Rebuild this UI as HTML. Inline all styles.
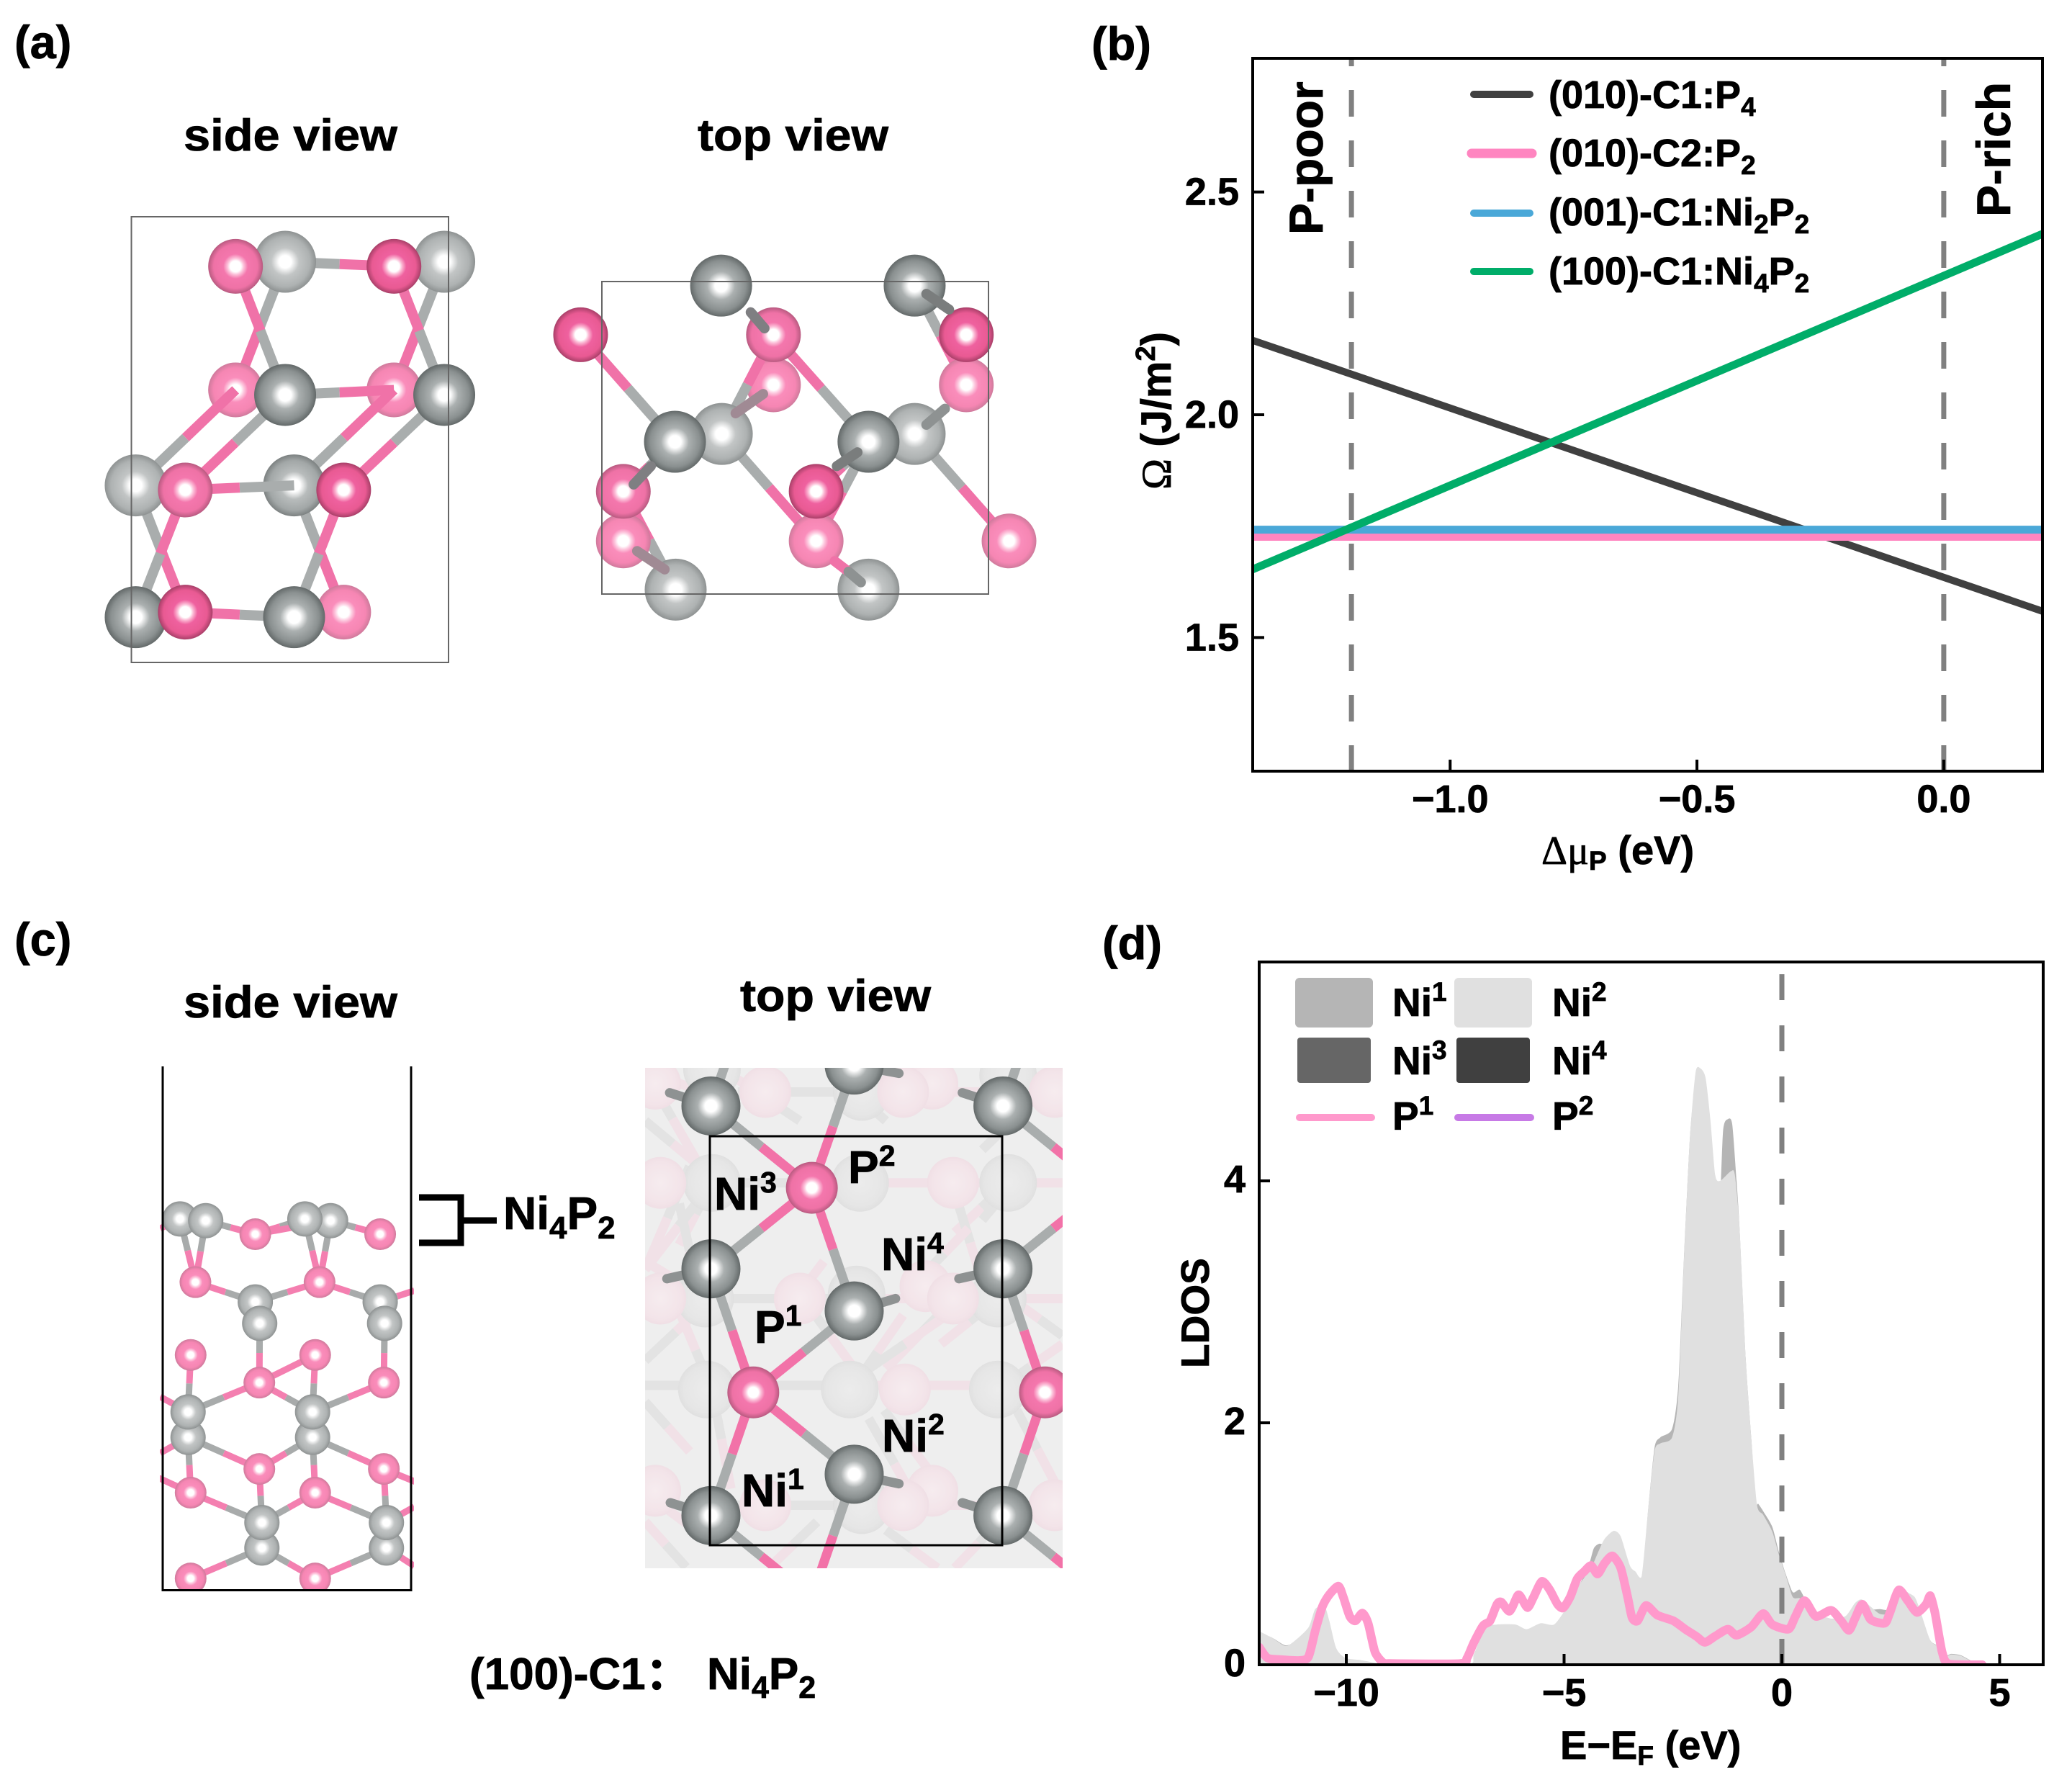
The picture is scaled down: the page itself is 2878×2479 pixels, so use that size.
<!DOCTYPE html>
<html lang="en">
<head>
<meta charset="utf-8">
<title>Ni2P surface structures, stability and LDOS</title>
<style>
html,body{margin:0;padding:0;background:#fff;}
svg{display:block;}
text{font-family:"Liberation Sans","Noto Sans CJK SC",sans-serif;font-weight:bold;fill:#000;white-space:pre;stroke:#000;stroke-width:.8px;}
.serif{font-family:"Liberation Serif",serif;font-weight:normal;}
</style>
</head>
<body>
<svg id="fig" xmlns="http://www.w3.org/2000/svg" width="2878" height="2479" viewBox="0 0 2878 2479">
<defs>
<radialGradient id="niDark"><stop offset="0" stop-color="#fff"/><stop offset=".2" stop-color="#fff"/><stop offset=".45" stop-color="#abb0b0"/><stop offset=".8" stop-color="#8a9090"/><stop offset="1" stop-color="#636969"/></radialGradient>
<radialGradient id="niMid"><stop offset="0" stop-color="#fff"/><stop offset=".2" stop-color="#fff"/><stop offset=".45" stop-color="#b8bcbc"/><stop offset=".8" stop-color="#a2a7a7"/><stop offset="1" stop-color="#7c8181"/></radialGradient>
<radialGradient id="niLight"><stop offset="0" stop-color="#fff"/><stop offset=".2" stop-color="#fff"/><stop offset=".45" stop-color="#c2c5c5"/><stop offset=".8" stop-color="#aeb2b2"/><stop offset="1" stop-color="#8e9292"/></radialGradient>
<radialGradient id="pStrong"><stop offset="0" stop-color="#fff"/><stop offset=".2" stop-color="#fff"/><stop offset=".3" stop-color="#fbb6d2"/><stop offset=".45" stop-color="#ef619f"/><stop offset=".8" stop-color="#e95a93"/><stop offset="1" stop-color="#a83f68"/></radialGradient>
<radialGradient id="pMid"><stop offset="0" stop-color="#fff"/><stop offset=".2" stop-color="#fff"/><stop offset=".3" stop-color="#fcc0d9"/><stop offset=".45" stop-color="#f477ad"/><stop offset=".8" stop-color="#ef72a6"/><stop offset="1" stop-color="#b85a80"/></radialGradient>
<radialGradient id="pLight"><stop offset="0" stop-color="#fff"/><stop offset=".2" stop-color="#fff"/><stop offset=".3" stop-color="#fdcde1"/><stop offset=".45" stop-color="#fa8dbb"/><stop offset=".8" stop-color="#f686b3"/><stop offset="1" stop-color="#cf7a9c"/></radialGradient>
<radialGradient id="niFade"><stop offset="0" stop-color="#ececec"/><stop offset=".8" stop-color="#e6e6e6"/><stop offset="1" stop-color="#e0e0e0"/></radialGradient>
<radialGradient id="pFade"><stop offset="0" stop-color="#f6ecef"/><stop offset=".8" stop-color="#f3e4e9"/><stop offset="1" stop-color="#f0dfe5"/></radialGradient>
<clipPath id="clipSide"><rect x="222" y="1481" width="353" height="728"/></clipPath>
<clipPath id="clipTop"><rect x="896" y="1483" width="580" height="695"/></clipPath>
<clipPath id="clipB"><rect x="1740" y="81" width="1097" height="990"/></clipPath>
<clipPath id="clipD"><rect x="1749" y="1336" width="1089" height="976"/></clipPath>
</defs>

<!-- Panel labels -->
<text x="20" y="81" font-size="65">(a)</text>
<text x="1516" y="83" font-size="65">(b)</text>
<text x="20" y="1327" font-size="65">(c)</text>
<text x="1531" y="1332" font-size="65">(d)</text>

<!-- Panel a -->
<g>
<text x="255" y="209" font-size="62" textLength="297" lengthAdjust="spacingAndGlyphs">side view</text>
<text x="969" y="209" font-size="62" textLength="265" lengthAdjust="spacingAndGlyphs">top view</text>
<g id="aSide"></g>
<rect x="182.5" y="301" width="440.5" height="619" fill="none" stroke="#666" stroke-width="2"/>
<g id="aTop"></g>
<rect x="836" y="391" width="537" height="434" fill="none" stroke="#666" stroke-width="2"/>
</g>

<!-- Panel b -->
<g>
<g id="bPlot" clip-path="url(#clipB)"></g>
<g id="bTicks"></g>
<rect x="1740" y="81" width="1097" height="990" fill="none" stroke="#000" stroke-width="4"/>
<text transform="translate(1626,680) rotate(-90)" font-size="58"><tspan class="serif">Ω</tspan> (J/m<tspan font-size="38" dy="-22">2</tspan><tspan dy="22">)</tspan></text>
<text x="2141" y="1200" font-size="56"><tspan class="serif">Δμ</tspan><tspan font-size="37" dy="8">P</tspan><tspan dy="-8"> (eV)</tspan></text>
<text transform="translate(1837,326) rotate(-90)" font-size="66">P-poor</text>
<text transform="translate(2792,301) rotate(-90)" font-size="66">P-rich</text>
<g>
<line x1="2047" y1="131" x2="2125" y2="131" stroke="#404040" stroke-width="10" stroke-linecap="round"/>
<line x1="2044" y1="213" x2="2128" y2="213" stroke="#ff85c0" stroke-width="13" stroke-linecap="round"/>
<line x1="2047" y1="296" x2="2125" y2="296" stroke="#4aa8d8" stroke-width="10" stroke-linecap="round"/>
<line x1="2047" y1="377" x2="2125" y2="377" stroke="#00ad69" stroke-width="10" stroke-linecap="round"/>
<text x="2151" y="150" font-size="54">(010)-C1:P<tspan font-size="37" dy="11">4</tspan></text>
<text x="2151" y="231" font-size="54">(010)-C2:P<tspan font-size="37" dy="11">2</tspan></text>
<text x="2151" y="313" font-size="54">(001)-C1:Ni<tspan font-size="37" dy="11">2</tspan><tspan dy="-11">P</tspan><tspan font-size="37" dy="11">2</tspan></text>
<text x="2151" y="395" font-size="54">(100)-C1:Ni<tspan font-size="37" dy="11">4</tspan><tspan dy="-11">P</tspan><tspan font-size="37" dy="11">2</tspan></text>
</g>
</g>

<!-- Panel c -->
<g>
<text x="255" y="1413" font-size="62" textLength="297" lengthAdjust="spacingAndGlyphs">side view</text>
<text x="1028" y="1404" font-size="62" textLength="265" lengthAdjust="spacingAndGlyphs">top view</text>
<g id="cSide" clip-path="url(#clipSide)"></g>
<path d="M226 1481V2208.5H571V1481" fill="none" stroke="#000" stroke-width="3"/>
<path d="M582 1663H640V1726H582M640 1695H690" fill="none" stroke="#000" stroke-width="9"/>
<text x="699" y="1707" font-size="64">Ni<tspan font-size="44" dy="13">4</tspan><tspan dy="-13">P</tspan><tspan font-size="44" dy="13">2</tspan></text>
<rect x="896" y="1483" width="580" height="695" fill="#eeeeee"/>
<g id="cTop" clip-path="url(#clipTop)"></g>
<rect x="986" y="1578" width="406" height="568" fill="none" stroke="#000" stroke-width="3"/>
<text x="992" y="1680" font-size="64">Ni<tspan font-size="41" dy="-24">3</tspan></text>
<text x="1178" y="1643" font-size="64">P<tspan font-size="41" dy="-24">2</tspan></text>
<text x="1224" y="1764" font-size="64">Ni<tspan font-size="41" dy="-24">4</tspan></text>
<text x="1048" y="1865" font-size="64">P<tspan font-size="41" dy="-24">1</tspan></text>
<text x="1225" y="2016" font-size="64">Ni<tspan font-size="41" dy="-24">2</tspan></text>
<text x="1030" y="2092" font-size="64">Ni<tspan font-size="41" dy="-24">1</tspan></text>
<text x="652" y="2346" font-size="62">(100)-C1：<tspan x="982">Ni</tspan><tspan font-size="43" dy="12">4</tspan><tspan dy="-12">P</tspan><tspan font-size="43" dy="12">2</tspan></text>
</g>

<!-- Panel d -->
<g>
<g id="dPlot" clip-path="url(#clipD)"></g>
<g id="dTicks"></g>
<rect x="1749" y="1336" width="1089" height="976" fill="none" stroke="#000" stroke-width="4"/>
<text transform="translate(1679,1900) rotate(-90)" font-size="55">LDOS</text>
<text x="2167" y="2443" font-size="56">E−E<tspan font-size="37" dy="8">F</tspan><tspan dy="-8"> (eV)</tspan></text>
<g>
<rect x="1799" y="1358" width="108" height="69" rx="6" fill="#b5b5b5"/>
<rect x="2020" y="1358" width="108" height="69" rx="6" fill="#e0e0e0"/>
<rect x="1802" y="1441" width="102" height="63" rx="4" fill="#666666"/>
<rect x="2023" y="1441" width="102" height="63" rx="4" fill="#404040"/>
<line x1="1805" y1="1552" x2="1905" y2="1552" stroke="#ff99cc" stroke-width="10" stroke-linecap="round"/>
<line x1="2025" y1="1552" x2="2126" y2="1552" stroke="#c77ae6" stroke-width="10" stroke-linecap="round"/>
<text x="1934" y="1411" font-size="55">Ni<tspan font-size="37" dy="-21">1</tspan></text>
<text x="2156" y="1411" font-size="55">Ni<tspan font-size="37" dy="-21">2</tspan></text>
<text x="1934" y="1492" font-size="55">Ni<tspan font-size="37" dy="-21">3</tspan></text>
<text x="2156" y="1492" font-size="55">Ni<tspan font-size="37" dy="-21">4</tspan></text>
<text x="1934" y="1569" font-size="55">P<tspan font-size="37" dy="-21">1</tspan></text>
<text x="2156" y="1569" font-size="55">P<tspan font-size="37" dy="-21">2</tspan></text>
</g>
</g>
</svg>

<script>
// ---------- Panel b data ----------
const muEnds = [-1.4, 0.2];
const omegaP4 = [2.167, 1.559];
const omegaC2P2 = [1.726, 1.726];
const omegaNi2P2 = [1.742, 1.742];
const omegaNi4P2 = [1.653, 2.406];
const boundaryMu = [-1.2, 0];
const bXTicks = [-1.0, -0.5, 0.0];
const bXTickLabels = ["−1.0", "−0.5", "0.0"];
const bYTicks = [1.5, 2.0, 2.5];
const bYTickLabels = ["1.5", "2.0", "2.5"];

// ---------- Panel d data ----------
const ni1Energy = [-11.98,-11.71,-11.39,-11.13,-10.86,-10.71,-10.5,-10.39,-10.23,-10.02,-9.7,-9.34,-9.1,-7.23,-7.07,-6.81,-6.54,-6.12,-5.86,-5.54,-5.23,-4.96,-4.65,-4.45,-4.32,-4.2,-4.07,-3.86,-3.7,-3.49,-3.22,-3.06,-2.92,-2.79,-2.52,-2.38,-2.25,-2.11,-1.98,-1.87,-1.75,-1.64,-1.53,-1.44,-1.35,-1.24,-1.14,-1.04,-0.97,-0.83,-0.7,-0.6,-0.54,-0.43,-0.22,-0.06,0.09,0.25,0.41,0.57,0.83,1.15,1.46,1.68,1.83,2.04,2.25,2.47,2.62,2.83,3.05,3.2,3.41,3.62,3.78,3.89,4.1,4.31,4.5];
const ni1Dos = [0.26,0.225,0.16,0.2,0.3,0.44,0.47,0.35,0.12,0.05,0.03,0.01,0,0,0.085,0.3,0.33,0.33,0.28,0.34,0.33,0.46,0.66,0.8,0.96,1.0,1.0,1.08,1.04,0.8,0.72,1.32,1.8,1.88,1.95,2.3,3.35,4.36,4.85,4.9,4.8,4.45,4.0,3.67,4.41,4.51,4.47,4.0,3.6,2.53,1.86,1.35,1.33,1.27,1.14,0.92,0.75,0.6,0.62,0.52,0.42,0.38,0.40,0.5,0.52,0.46,0.46,0.46,0.6,0.61,0.54,0.4,0.2,0.15,0.08,0.09,0.08,0.04,0];
const ni2Energy = [-11.98,-11.71,-11.39,-11.13,-10.86,-10.71,-10.5,-10.39,-10.23,-10.02,-9.7,-9.34,-9.1,-7.23,-7.07,-6.81,-6.54,-6.12,-5.86,-5.54,-5.23,-4.96,-4.65,-4.38,-4.23,-4.07,-3.86,-3.7,-3.49,-3.36,-3.22,-3.06,-2.92,-2.79,-2.52,-2.38,-2.25,-2.11,-1.98,-1.87,-1.75,-1.64,-1.53,-1.42,-1.17,-1.08,-0.97,-0.83,-0.7,-0.57,-0.43,-0.22,-0.06,0.09,0.25,0.41,0.57,0.83,1.15,1.46,1.68,1.83,2.04,2.25,2.47,2.62,2.83,3.05,3.2,3.41,3.62,3.78,3.89,4.1,4.31,4.5];
const ni2Dos = [0.274,0.224,0.155,0.214,0.313,0.462,0.482,0.363,0.135,0.056,0.04,0.016,0,0,0.085,0.304,0.333,0.333,0.294,0.343,0.333,0.462,0.66,0.8,0.92,1.04,1.107,1.06,0.82,0.77,0.73,1.32,1.77,1.83,1.88,2.21,3.33,4.36,4.9,4.93,4.85,4.5,4.05,4.0,4.08,4.05,3.6,2.53,1.86,1.32,1.24,1.1,0.9,0.74,0.56,0.55,0.5,0.42,0.38,0.40,0.51,0.54,0.48,0.42,0.43,0.58,0.60,0.56,0.42,0.2,0.145,0.075,0.085,0.075,0.036,0];
const p1Energy = [-12,-11.81,-11.5,-11.08,-10.87,-10.71,-10.55,-10.39,-10.18,-10.07,-9.92,-9.79,-9.63,-9.5,-9.34,-9.15,-9.0,-7.39,-7.23,-7.07,-6.86,-6.7,-6.54,-6.44,-6.25,-6.07,-6.0,-5.84,-5.7,-5.51,-5.33,-5.15,-5.02,-4.86,-4.7,-4.54,-4.38,-4.23,-4.07,-3.89,-3.7,-3.54,-3.44,-3.31,-3.12,-2.86,-2.49,-2.22,-1.96,-1.77,-1.54,-1.24,-1.04,-0.7,-0.43,-0.22,0.15,0.31,0.52,0.78,1.13,1.36,1.54,1.68,1.85,2.04,2.36,2.47,2.68,2.89,3.1,3.31,3.41,3.52,3.68,3.84,4.6];
const p1Dos = [0.145,0.056,0.042,0.036,0.065,0.284,0.48,0.58,0.65,0.56,0.40,0.363,0.427,0.343,0.105,0.016,0.01,0.01,0.055,0.185,0.323,0.363,0.50,0.518,0.442,0.571,0.565,0.472,0.56,0.69,0.62,0.50,0.47,0.56,0.71,0.77,0.82,0.75,0.84,0.90,0.80,0.56,0.39,0.363,0.49,0.41,0.363,0.294,0.234,0.185,0.234,0.294,0.244,0.313,0.423,0.333,0.294,0.40,0.53,0.40,0.45,0.363,0.284,0.383,0.50,0.373,0.343,0.42,0.617,0.53,0.433,0.50,0.57,0.42,0.105,0.006,0];
const fermiEnergy = [0];
const dXTicks = [-10, -5, 0, 5];
const dXTickLabels = ["−10", "−5", "0", "5"];
const dYTicks = [0, 2, 4];
const dYTickLabels = ["0", "2", "4"];

const NS = "http://www.w3.org/2000/svg";
function mk(parent, tag, attrs) {
  const e = document.createElementNS(NS, tag);
  for (const k in attrs) e.setAttribute(k, attrs[k]);
  parent.appendChild(e);
  return e;
}

// ---------- axes ----------
const bX = v => 1740 + (v + 1.4) / 1.6 * 1097;
const bY = v => 1071 - (v - 1.2) / 1.6 * 990;
const dX = v => 1749 + (v + 12) / 18 * 1089;
const dY = v => 2312 - v * 168;

// ---------- panel b ----------
const bPlot = document.getElementById("bPlot");
const bTicks = document.getElementById("bTicks");
boundaryMu.forEach(function (m) {
  const l = mk(bPlot, "line", {x1: bX(m), x2: bX(m), y1: 81, y2: 1071, stroke: "#808080", "stroke-width": 7, "stroke-dasharray": "37 33", "stroke-dashoffset": 26});
  
  
});
function bLine(vals, color, width, name) {
  const l = mk(bPlot, "line", {x1: bX(muEnds[0]), y1: bY(vals[0]), x2: bX(muEnds[1]), y2: bY(vals[1]), stroke: color, "stroke-width": width});
  
  
}
bLine(omegaP4, "#404040", 10, "line-010-c1");
bLine(omegaC2P2, "#ff85c0", 11, "line-010-c2");
bLine(omegaNi2P2, "#4aa8d8", 11, "line-001-c1");
bLine(omegaNi4P2, "#00ad69", 11, "line-100-c1");
bXTicks.forEach(function (v, i) {
  const t = mk(bTicks, "line", {x1: bX(v), x2: bX(v), y1: 1071, y2: 1055, stroke: "#000", "stroke-width": 4});
  
  
  const lb = mk(bTicks, "text", {x: bX(v), y: 1128, "font-size": 54, "text-anchor": "middle"});
  lb.textContent = bXTickLabels[i];
  
  
});
bYTicks.forEach(function (v, i) {
  const t = mk(bTicks, "line", {x1: 1740, x2: 1756, y1: bY(v), y2: bY(v), stroke: "#000", "stroke-width": 4});
  
  
  const lb = mk(bTicks, "text", {x: 1721, y: bY(v) + 18, "font-size": 54, "text-anchor": "end"});
  lb.textContent = bYTickLabels[i];
  
  
});

// ---------- panel d ----------
function curve(xs, ys) {
  const p = xs.map((x, i) => [dX(x), dY(ys[i])]);
  let d = "M" + p[0][0].toFixed(1) + " " + p[0][1].toFixed(1);
  for (let i = 0; i < p.length - 1; i++) {
    const a = p[Math.max(i - 1, 0)], b = p[i], c = p[i + 1], e = p[Math.min(i + 2, p.length - 1)];
    const k = 0.12;
    let c1y = b[1] + (c[1] - a[1]) * k, c2y = c[1] - (e[1] - b[1]) * k;
    const lo = Math.min(b[1], c[1]), hi = Math.max(b[1], c[1]);
    c1y = Math.min(Math.max(c1y, lo - 6), hi + 6);
    c2y = Math.min(Math.max(c2y, lo - 6), hi + 6);
    d += "C" + (b[0] + (c[0] - a[0]) * k).toFixed(1) + " " + Math.min(c1y, dY(0)).toFixed(1) + " " + (c[0] - (e[0] - b[0]) * k).toFixed(1) + " " + Math.min(c2y, dY(0)).toFixed(1) + " " + c[0].toFixed(1) + " " + c[1].toFixed(1);
  }
  return d;
}
const dPlot = document.getElementById("dPlot");
const dTicks = document.getElementById("dTicks");
function dArea(xs, ys, color, name) {
  const d = curve(xs, ys) + "L" + dX(xs[xs.length - 1]).toFixed(1) + " " + dY(0) + "L" + dX(xs[0]).toFixed(1) + " " + dY(0) + "Z";
  const a = mk(dPlot, "path", {d: d, fill: color});
  
  
}
dArea(ni1Energy, ni1Dos, "#b5b5b5", "area-ni1");
dArea(ni2Energy, ni2Dos, "#e0e0e0", "area-ni2");
fermiEnergy.forEach(function (e) {
  const l = mk(dPlot, "line", {x1: dX(e), x2: dX(e), y1: 2312, y2: 1347, stroke: "#808080", "stroke-width": 7, "stroke-dasharray": "36 35"});
  
  
});
const p1Line = mk(dPlot, "path", {d: curve(p1Energy, p1Dos), fill: "none", stroke: "#ff99cc", "stroke-width": 12, "stroke-linejoin": "round", "stroke-linecap": "round"});


dXTicks.forEach(function (v, i) {
  const t = mk(dTicks, "line", {x1: dX(v), x2: dX(v), y1: 2312, y2: 2297, stroke: "#000", "stroke-width": 4});
  
  
  const lb = mk(dTicks, "text", {x: dX(v), y: 2369, "font-size": 54, "text-anchor": "middle"});
  lb.textContent = dXTickLabels[i];
  
  
});
dYTicks.forEach(function (v, i) {
  const t = mk(dTicks, "line", {x1: 1749, x2: 1764, y1: dY(v), y2: dY(v), stroke: "#000", "stroke-width": 4});
  
  
  const lb = mk(dTicks, "text", {x: 1730, y: dY(v) + 16, "font-size": 54, "text-anchor": "end"});
  lb.textContent = dYTickLabels[i];
  
  
});

// ---------- structure drawing ----------
function painter(groupId, x0, y0, fx, fy, rNi, rP, bw, niCol, pCol) {
  const g = document.getElementById(groupId);
  const px = x => x0 + x / fx, py = y => y0 + y / fy;
  return {
    // half-and-half bond, first end gray Ni, second end pink P
    B: function (x1, y1, x2, y2) {
      const mx = (x1 + x2) / 2, my = (y1 + y2) / 2;
      const s1 = mk(g, "line", {x1: px(x1), y1: py(y1), x2: px(mx), y2: py(my), stroke: niCol, "stroke-width": bw});
      
      
      const s2 = mk(g, "line", {x1: px(mx), y1: py(my), x2: px(x2), y2: py(y2), stroke: pCol, "stroke-width": bw});
      
      
    },
    // short rounded gray stub
    S: function (x1, y1, x2, y2, col) {
      const s = mk(g, "line", {x1: px(x1), y1: py(y1), x2: px(x2), y2: py(y2), stroke: col || "#8e9292", "stroke-width": bw, "stroke-linecap": "round"});
      
      
    },
    N: function (x, y, g1) {
      const c = mk(g, "circle", {cx: px(x), cy: py(y), r: rNi, fill: "url(#" + (g1 || "niMid") + ")"});
      
      
    },
    P: function (x, y, g1) {
      const c = mk(g, "circle", {cx: px(x), cy: py(y), r: rP, fill: "url(#" + (g1 || "pMid") + ")"});
      
      
    }
  };
}

// (a) side view
(function () {
  const q = painter("aSide", 0, 0, 1.0453, 1.568, 43, 38, 14, "#a9adad", "#f072a8");
  q.B(414,570,572,580);
  q.B(414,570,342,849); q.B(645,570,572,849);
  q.P(342,849,"pLight"); q.P(572,849,"pLight");
  q.B(197,1057,342,849); q.B(427,1057,572,849);
  q.B(414,860,269,1067); q.B(645,860,499,1067);
  q.B(414,860,572,849);
  q.B(414,860,342,580); q.B(645,860,572,580);
  q.N(414,570,"niLight"); q.N(645,570,"niLight");
  q.P(342,580,"pMid"); q.P(572,580,"pStrong");
  q.N(414,860,"niDark"); q.N(645,860,"niDark");
  q.B(197,1057,269,1333); q.B(427,1057,499,1333);
  q.P(499,1333,"pLight");
  q.N(197,1057,"niLight"); q.N(427,1057,"niMid");
  q.B(427,1057,269,1067);
  q.B(197,1344,269,1067); q.B(427,1344,499,1067);
  q.B(427,1344,269,1333);
  q.P(269,1067,"pMid"); q.P(499,1067,"pStrong");
  q.N(197,1344,"niDark");
  q.P(269,1333,"pStrong");
  q.N(427,1344,"niDark");
})();

// (a) top view
(function () {
  const q = painter("aTop", 0, 0, 1.0453, 1.568, 43, 38, 14, "#a9adad", "#f072a8");
  q.B(1048,945,1185,1178); q.B(1328,945,1465,1178);
  q.B(1328,622,1403,838); q.B(981,1284,905,1070);
  q.B(1261,962,1185,1178);
  q.P(1123,838,"pLight"); q.P(1403,838,"pLight"); q.P(905,1178,"pLight"); q.P(1465,1178,"pLight"); q.P(1185,1178,"pLight");
  q.N(981,1284,"niLight"); q.N(1261,1284,"niLight");
  q.B(1048,945,1123,729);
  q.N(1048,945,"niLight"); q.N(1328,945,"niLight");
  q.S(1068,900,1108,858,"#a08a94"); q.S(1345,925,1372,890);
  q.S(965,1240,925,1200,"#a08a94");
  q.S(1232,1245,1212,1222,"#f072a8"); q.S(1250,1268,1232,1245);
  q.B(980,962,843,729); q.B(1261,962,1123,729);
  q.B(980,962,905,1070); q.B(1261,962,1185,1070);
  q.P(843,729,"pStrong"); q.P(1123,729,"pMid"); q.P(905,1070,"pMid"); q.P(1185,1070,"pStrong"); q.P(1403,729,"pStrong");
  q.N(1047,622,"niDark"); q.N(1328,622,"niDark"); q.N(980,962,"niDark"); q.N(1261,962,"niDark");
  q.S(1090,680,1110,715,"#7f7f82"); q.S(1345,640,1378,674,"#7a7d7d");
  q.S(945,1015,920,1055,"#7f7f82"); q.S(1245,985,1215,1015,"#7a7d7d");
})();

// (c) side view
(function () {
  const q = painter("cSide", 0, 1250, 1.96, 1.2758, 24.5, 22, 9, "#a8abab", "#f47fb0");
  q.B(490,565,532,677); q.B(560,568,532,677); q.B(830,565,870,677); q.B(900,568,870,677);
  q.B(560,568,695,592); q.B(830,565,695,592); q.B(900,568,1035,592);
  q.B(490,565,436,582); q.B(900,568,695,592);
  q.B(695,712,532,677); q.B(695,712,870,677); q.B(1035,712,870,677); q.B(1035,712,1128,692);
  q.B(707,750,706,855); q.B(1047,750,1045,855);
  q.B(512,907,519,806); q.B(851,907,858,806);
  q.S(706,855,858,806,"#f47fb0");
  q.B(512,907,706,855); q.B(851,907,706,855); q.B(851,907,1045,855); q.B(512,907,436,880);
  q.B(512,952,436,980); q.B(512,952,706,1008); q.B(851,952,706,1008); q.B(851,952,1045,1008); q.S(1045,1008,1128,1030,"#f47fb0");
  q.B(512,952,519,1050); q.B(851,952,858,1050);
  q.B(713,1103,706,1008); q.B(1052,1103,1045,1008);
  q.S(436,1025,519,1050,"#f47fb0"); q.B(713,1103,519,1050); q.B(713,1103,858,1050); q.B(1052,1103,858,1050); q.B(1052,1103,1128,1075);
  q.B(713,1148,519,1202); q.B(713,1148,858,1202); q.B(1052,1148,858,1202); q.B(1052,1148,1128,1180);
  q.N(490,565,"niLight"); q.N(900,568,"niLight"); q.P(695,592,"pLight"); q.P(1035,592,"pLight"); q.N(560,568,"niLight"); q.N(830,565,"niLight");
  q.P(532,677,"pLight"); q.P(870,677,"pLight");
  q.N(695,712,"niLight"); q.N(1035,712,"niLight"); q.N(707,750,"niLight"); q.N(1047,750,"niLight");
  q.P(519,806,"pLight"); q.P(858,806,"pLight"); q.P(706,855,"pLight"); q.P(1045,855,"pLight");
  q.N(512,952,"niLight"); q.N(851,952,"niLight"); q.N(512,907,"niLight"); q.N(851,907,"niLight");
  q.P(706,1008,"pLight"); q.P(1045,1008,"pLight"); q.P(519,1050,"pLight"); q.P(858,1050,"pLight");
  q.N(713,1148,"niLight"); q.N(1052,1148,"niLight"); q.N(713,1103,"niLight"); q.N(1052,1103,"niLight");
  q.P(519,1202,"pLight"); q.P(858,1202,"pLight");
})();

// (c) top view
(function () {
  const q = painter("cTop", 800, 1350, 2.0907, 1.7422, 41, 36, 13, "#a9adad", "#f272a8");
  const f = painter("cTop", 800, 1350, 2.0907, 1.7422, 40, 36, 13, "#e3e3e3", "#f1e1e7");
  [[201,1000,1413,1000],[201,790,1413,790],[201,510,1413,510],[470,290,1413,290],[201,1290,1413,1290]].forEach(v => f.B(v[0],v[1],v[2],v[3]));
  [[201,360,360,470],[201,240,360,470],[330,470,201,720],[395,510,300,660],[395,510,201,720],[300,560,360,790],[201,940,380,800],[380,790,201,700],[470,320,201,240],
   [650,360,470,260],[900,360,750,250],[1255,360,1413,250],[1180,430,1413,240],[1255,510,1100,630],[1180,600,1300,480],[1110,560,1180,750],[1225,790,1060,900],[1100,790,900,960],
   [800,1010,950,830],[660,790,800,950],[620,810,720,700],[850,960,1060,840],[1000,740,1140,620],[895,1060,1020,1200],[850,1080,1000,1300],[1225,1010,1413,900],[1413,880,1280,800],
   [395,1010,300,820],[395,1010,450,1250],[700,1330,560,1442],[900,1350,1050,1442],[1240,1320,1100,1442],[320,1440,201,1330],[1280,1060,1400,1250],[201,1040,330,1160],[201,1260,330,1340]
  ].forEach(v => f.B(v[0],v[1],v[2],v[3]));
  [[395,510],[825,510],[1255,510],[375,790],[815,780],[1225,790],[380,1010],[795,1010],[1225,1010],[395,235],[830,290],[1255,250],[830,1290]].forEach(v => f.N(v[0],v[1],"niFade"));
  [[245,510],[1095,510],[650,790],[1015,760],[1095,790],[245,790],[955,1010],[550,290],[1035,270],[950,290],[1390,290],[230,270],[550,1290],[1035,1255],[950,1290],[1390,1290],[230,1255]].forEach(v => f.P(v[0],v[1],"pFade"));
  q.B(392,324,685,522); q.B(808,225,685,522); q.B(392,718,685,522); q.B(808,820,685,522);
  q.B(392,718,515,1017); q.B(808,820,515,1017); q.B(392,1315,515,1017); q.B(808,1215,515,1017);
  q.B(1240,718,1362,1017); q.B(1240,1315,1362,1017);
  q.B(1240,324,1533,522); q.B(1240,718,1533,522); q.B(1240,1315,1533,1513);
  q.B(392,1315,685,1513); q.B(808,1215,685,1513);
  q.B(392,324,515,25);
  q.B(1240,324,1362,25);
  q.S(392,324,272,292); q.S(808,225,938,245); q.S(1240,324,1122,292);
  q.S(392,718,264,742); q.S(808,820,928,790); q.S(1240,718,1112,742);
  q.S(392,1315,274,1284); q.S(808,1215,938,1238); q.S(1240,1315,1122,1284);
  [[392,324],[808,225],[1240,324],[392,718],[808,820],[1240,718],[392,1315],[808,1215],[1240,1315]].forEach(v => q.N(v[0],v[1],"niDark"));
  [[685,522],[515,1017],[1362,1017]].forEach(v => q.P(v[0],v[1],"pMid"));
})();
</script>
</body>
</html>
